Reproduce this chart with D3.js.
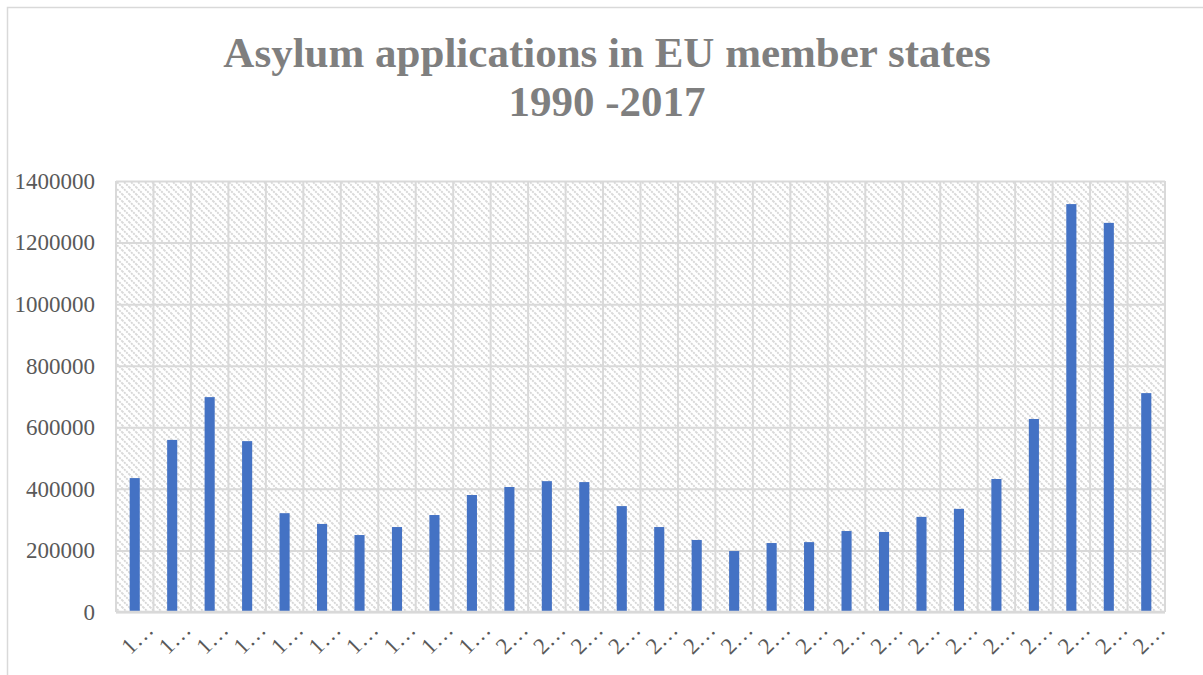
<!DOCTYPE html>
<html>
<head>
<meta charset="utf-8">
<script src="https://cdn.jsdelivr.net/npm/d3@7"></script>
<style>
  body { margin: 0; background: #fff; }
  svg { display: block; }
</style>
</head>
<body>
<div id="chart"></div>
<script>
var years = ["1990", "1991", "1992", "1993", "1994", "1995", "1996", "1997", "1998", "1999",
    "2000", "2001", "2002", "2003", "2004", "2005", "2006", "2007", "2008", "2009",
    "2010", "2011", "2012", "2013", "2014", "2015", "2016", "2017"];
var applications = [435000, 559000, 698000, 555000, 321000, 286000, 250000, 276000, 315000, 380000,
    406000, 425000, 422000, 344000, 276000, 234000, 198000, 224000, 227000, 263000,
    260000, 309000, 335000, 432000, 627000, 1325000, 1264000, 711000];
var yTicks = [0, 200000, 400000, 600000, 800000, 1000000, 1200000, 1400000];
var titleLines = ["Asylum applications in EU member states", "1990 -2017"];

var serif = "'Liberation Serif', 'Times New Roman', serif";
var width = 1203, height = 675;
var margin = {left: 116, right: 38, top: 181, bottom: 63};
var innerW = width - margin.left - margin.right;
var innerH = height - margin.top - margin.bottom;

var svg = d3.select("#chart").append("svg")
    .attr("width", width)
    .attr("height", height);

// diagonal hatch for the plot background
var pat = svg.append("defs").append("pattern")
    .attr("id", "hatch")
    .attr("patternUnits", "userSpaceOnUse")
    .attr("width", 7).attr("height", 7);
pat.append("rect").attr("width", 7).attr("height", 7).attr("fill", "#fff");
pat.append("path")
    .attr("d", "M-1,-1 L8,8 M-1,6 L1,8 M6,-1 L8,1")
    .attr("stroke", "#d6d6d6")
    .attr("stroke-width", 1.8)
    .attr("stroke-dasharray", "2,1");

// outer chart border
svg.append("rect")
    .attr("x", 7.5).attr("y", 7.5)
    .attr("width", width + 10).attr("height", height + 10)
    .attr("fill", "none")
    .attr("stroke", "#d9d9d9")
    .attr("stroke-width", 1.5);

svg.append("text")
    .attr("text-anchor", "middle")
    .attr("font-family", serif)
    .attr("font-weight", "bold")
    .attr("font-size", 43)
    .attr("fill", "#7f7f7f")
    .selectAll("tspan")
    .data(titleLines)
    .enter().append("tspan")
    .attr("x", 607)
    .attr("y", function(d, i) { return 67 + i * 49; })
    .text(function(d) { return d; });

var g = svg.append("g")
    .attr("transform", "translate(" + margin.left + "," + margin.top + ")");

var x = d3.scaleBand().domain(years).range([0, innerW]).paddingInner(0.73).paddingOuter(0.365);
var y = d3.scaleLinear().domain([0, 1400000]).range([innerH, 0]);

g.append("rect")
    .attr("width", innerW).attr("height", innerH)
    .attr("fill", "url(#hatch)");

var step = x.step();
var x0 = x(years[0]) - x.paddingOuter() * step;

// vertical grid at category boundaries
g.selectAll(".vgrid")
    .data(d3.range(years.length + 1))
    .enter().append("line")
    .attr("class", "vgrid")
    .attr("x1", function(i) { return x0 + i * step; })
    .attr("x2", function(i) { return x0 + i * step; })
    .attr("y1", 0).attr("y2", innerH)
    .attr("stroke", "#d9d9d9")
    .attr("stroke-width", 2);

var yAxis = d3.axisLeft(y).tickValues(yTicks).tickSize(-innerW).tickPadding(8)
    .tickFormat(d3.format("d"));
g.append("g").attr("class", "y-axis").call(yAxis)
    .attr("font-family", serif)
    .call(function(a) {
        a.select(".domain").remove();
        a.selectAll("line").attr("stroke", "#d9d9d9").attr("stroke-width", 2);
        a.selectAll("text")
            .attr("font-family", serif)
            .attr("font-size", 23)
            .attr("fill", "#595959")
            .attr("x", -21).attr("dy", "0.32em");
    });

g.selectAll(".bar")
    .data(applications)
    .enter().append("rect")
    .attr("class", "bar")
    .attr("x", function(d, i) { return x(years[i]); })
    .attr("width", x.bandwidth())
    .attr("y", function(d) { return y(d); })
    .attr("height", function(d) { return innerH - y(d); })
    .attr("fill", "#4472c4");

// x axis line
g.append("line")
    .attr("x1", 0).attr("x2", innerW)
    .attr("y1", innerH).attr("y2", innerH)
    .attr("stroke", "#d9d9d9")
    .attr("stroke-width", 2.5);

// truncated rotated labels, the way Excel shows them
var xAxis = d3.axisBottom(x).tickSize(0).tickFormat(function(d) { return d.charAt(0) + "\u2026"; });
g.append("g").attr("class", "x-axis")
    .attr("transform", "translate(0," + innerH + ")")
    .attr("font-family", serif)
    .call(xAxis)
    .call(function(a) {
        a.select(".domain").remove();
        a.selectAll("text")
            .attr("font-family", serif)
            .attr("font-size", 23)
            .attr("fill", "#595959")
            .attr("text-anchor", "end")
            .attr("dy", 0)
            .attr("transform", "translate(18,17) rotate(-45)");
    });
</script>
</body>
</html>
